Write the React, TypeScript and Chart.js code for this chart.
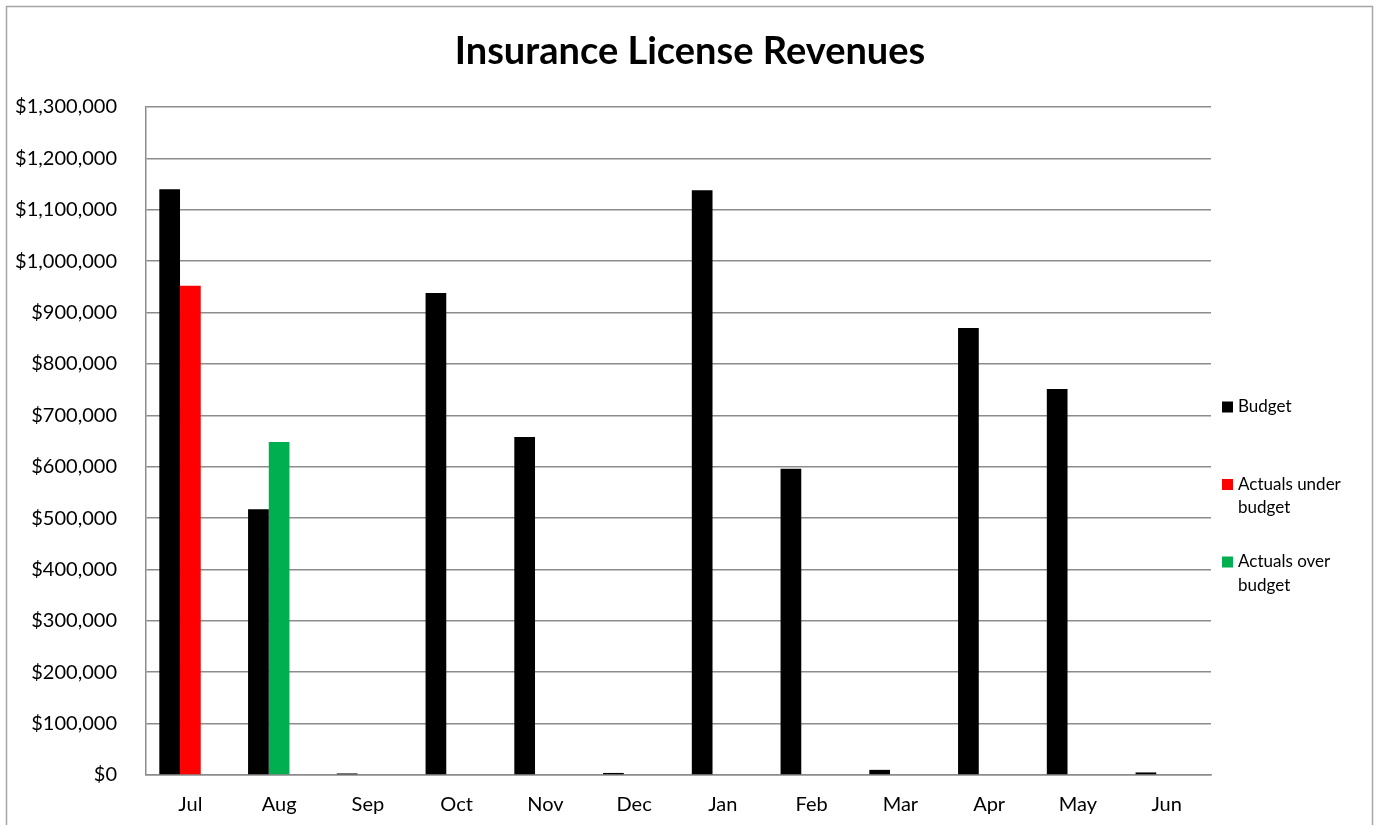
import React, { useEffect, useRef } from "react";
import { Chart, registerables } from "chart.js";

Chart.register(...registerables);

const months = ["Jul", "Aug", "Sep", "Oct", "Nov", "Dec", "Jan", "Feb", "Mar", "Apr", "May", "Jun"];
const budget = [1140000, 517000, 3000, 938000, 658000, 4000, 1138000, 596000, 10000, 870000, 751000, 5000];
const actualsUnder = [952000, null, null, null, null, null, null, null, null, null, null, null];
const actualsOver = [null, 648000, null, null, null, null, null, null, null, null, null, null];
const spacer = [null, null, null, null, null, null, null, null, null, null, null, null];
const titleText = "Insurance License Revenues";
const legendItems = [
  { color: "#000000", lines: ["Budget"] },
  { color: "#ff0000", lines: ["Actuals under", "budget"] },
  { color: "#00b050", lines: ["Actuals over", "budget"] },
];

const FONT = "Lato, 'Open Sans', sans-serif";

export default function App() {
  const ref = useRef<HTMLCanvasElement | null>(null);

  useEffect(() => {
    const canvas = ref.current;
    if (!canvas) return;

    const decor = {
      id: "decor",
      beforeDraw(chart: any) {
        const ctx = chart.ctx;
        ctx.save();
        ctx.fillStyle = "#ffffff";
        ctx.fillRect(0, 0, chart.width, chart.height);
        ctx.strokeStyle = "#a6a6a6";
        ctx.lineWidth = 1.5;
        ctx.strokeRect(6.5, 6.5, 1366, 840);
        ctx.restore();
      },
      afterDraw(chart: any) {
        const ctx = chart.ctx;
        ctx.save();
        // title
        ctx.fillStyle = "#000000";
        ctx.font = `bold 38px ${FONT}`;
        ctx.textAlign = "center";
        ctx.textBaseline = "middle";
        ctx.fillText(titleText, 690, 52);
        // legend
        const ys = [407, 484.5, 562];
        ctx.font = `17px ${FONT}`;
        ctx.textAlign = "left";
        legendItems.forEach((it, i) => {
          const y = ys[i];
          ctx.fillStyle = it.color;
          ctx.fillRect(1222, y - 5.5, 11, 11);
          ctx.fillStyle = "#000000";
          it.lines.forEach((ln, j) => {
            ctx.fillText(ln, 1238, y + j * 23.5);
          });
        });
        ctx.restore();
      },
    };

    const chart = new Chart(canvas, {
      type: "bar",
      data: {
        labels: months,
        datasets: [
          { label: "Budget", data: budget, backgroundColor: "#000000", stack: "b", borderWidth: 0 },
          { label: "Actuals under budget", data: actualsUnder, backgroundColor: "#ff0000", stack: "a", borderWidth: 0 },
          { label: "Actuals over budget", data: actualsOver, backgroundColor: "#00b050", stack: "a", borderWidth: 0 },
          { label: "", data: spacer, backgroundColor: "rgba(0,0,0,0)", stack: "c", borderWidth: 0 },
        ],
      },
      options: {
        responsive: false,
        animation: false,
        events: [],
        categoryPercentage: 0.7,
        barPercentage: 1.0,
        layout: { padding: { left: 0, top: 107, right: 164, bottom: 0 } },
        plugins: {
          legend: { display: false },
          title: { display: false },
          tooltip: { enabled: false },
        },
        scales: {
          x: {
            grid: { display: false, drawTicks: false },
            border: { display: true, color: "#8c8c8c", width: 1.5 },
            ticks: { color: "#000000", font: { family: FONT, size: 20 }, padding: 18 },
            afterFit(scale: any) {
              scale.height = 50;
            },
          },
          y: {
            stacked: true,
            min: 0,
            max: 1300000,
            grid: { color: "#8c8c8c", lineWidth: 1.5, drawTicks: false },
            border: { display: true, color: "#8c8c8c", width: 1.5 },
            ticks: {
              stepSize: 100000,
              color: "#000000",
              font: { family: FONT, size: 20 },
              padding: 29,
              callback: (v: any) => "$" + Number(v).toLocaleString("en-US"),
            },
            afterFit(scale: any) {
              scale.width = 146;
            },
          },
        },
      },
      plugins: [decor],
    } as any);

    return () => chart.destroy();
  }, []);

  return (
    <div style={{ position: "absolute", left: 0, top: 0, width: 1375, height: 825, overflow: "hidden" }}>
      <canvas ref={ref} width={1375} height={825} style={{ display: "block" }} />
    </div>
  );
}
